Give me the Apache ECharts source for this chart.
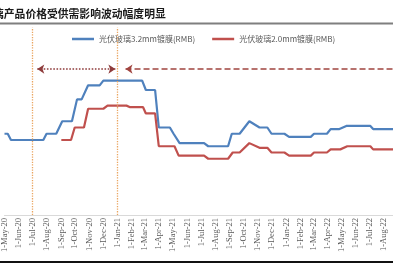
<!DOCTYPE html>
<html><head><meta charset="utf-8">
<script src="https://cdn.jsdelivr.net/npm/echarts@6/dist/echarts.min.js"></script>
<style>html,body{margin:0;padding:0;background:#fff}#c{width:393px;height:267px}</style>
</head><body><div id="c"></div>
<script>
var titleText = '璃产品价格受供需影响波动幅度明显';
var seriesNames = ['光伏玻璃3.2mm镀膜(RMB)', '光伏玻璃2.0mm镀膜(RMB)'];
var monthNames = ['Jan','Feb','Mar','Apr','May','Jun','Jul','Aug','Sep','Oct','Nov','Dec'];
var axisMin = '2020-05-01', axisMax = '2022-08-20';

var blueDates = ['2020-05-01','2020-05-08','2020-05-15','2020-07-24','2020-07-31','2020-08-21','2020-09-03','2020-09-24','2020-10-05','2020-10-15','2020-10-29','2020-11-23','2020-12-01','2021-02-23','2021-03-03','2021-03-23','2021-03-31','2021-04-24','2021-05-02','2021-05-06','2021-05-15','2021-07-07','2021-07-16','2021-08-28','2021-09-05','2021-09-22','2021-10-13','2021-11-04','2021-11-21','2021-11-30','2021-12-28','2022-01-07','2022-02-23','2022-03-02','2022-03-30','2022-04-07','2022-04-26','2022-05-11','2022-07-02','2022-07-08','2022-08-20'];
var blueValues = [26,26,24,24,26,26,30,30,37,37,41.5,41.5,43,43,40,40,28,28,26,26,23,23,22,22,26,26,30,28,28,26,26,25,25,26,26,27.5,27.5,28.5,28.5,27.5,27.5];

var redDates = ['2020-09-01','2020-09-22','2020-09-30','2020-10-20','2020-10-29','2020-12-01','2020-12-10','2021-01-20','2021-01-28','2021-02-25','2021-03-03','2021-03-23','2021-03-31','2021-05-04','2021-05-13','2021-07-07','2021-07-16','2021-08-28','2021-09-07','2021-09-22','2021-10-13','2021-11-04','2021-11-21','2021-11-30','2021-12-28','2022-01-07','2022-02-23','2022-03-02','2022-03-30','2022-04-07','2022-04-28','2022-05-13','2022-07-02','2022-07-08','2022-08-20'];
var redValues = [24,24,28,28,34,34,35,35,34.5,34.5,32.5,32.5,22,22,19,19,18,18,20,20,23,21.5,21.5,20,20,19,19,20,20,21,21,22,22,21,21];

var markerDates = ['2020-07-01','2021-01-01'];
var arrow1 = ['2020-07-11','2020-12-27'];
var arrow2 = ['2021-01-18','2022-08-20'];
var arrowLevel = 46.7;

function zip(d, v){ return d.map(function(x,i){ return [x, v[i]]; }); }

var chart = echarts.init(document.getElementById('c'), null, {renderer:'canvas'});
chart.setOption({
  animation: false,
  backgroundColor: '#fff',
  grid: {left: 0, right: 0, top: 27.5, bottom: 52, containLabel: false},
  legend: {
    left: 67, top: 30, itemWidth: 22, itemHeight: 2.5, itemGap: 17, icon: 'rect',
    textStyle: {fontSize: 8, color: '#595959', fontFamily: '"Noto Sans CJK SC"'},
    data: seriesNames
  },
  xAxis: {
    type: 'time', min: axisMin, max: axisMax,
    minInterval: 30*86400000, maxInterval: 30*86400000, splitNumber: 30,
    axisLine: {show: true, lineStyle: {color: '#d9d9d9', width: 1}},
    axisTick: {show: false},
    splitLine: {show: false},
    axisLabel: {
      rotate: 90, margin: 3, fontSize: 8.5, color: '#595959', fontFamily: '"Liberation Serif"',
      hideOverlap: false, showMinLabel: true, showMaxLabel: false,
      formatter: function(val){ var d = new Date(val); return d.getDate() + '-' + monthNames[d.getMonth()] + '-' + String(d.getFullYear()).slice(2); }
    }
  },
  yAxis: {type: 'value', min: 0, max: 60, show: false, splitLine: {show: false}},
  series: [
    {
      name: seriesNames[0], type: 'line', showSymbol: false, symbol: 'none',
      lineStyle: {color: '#4F81BD', width: 2.2}, itemStyle: {color: '#4F81BD'},
      data: zip(blueDates, blueValues),
      markLine: {
        silent: true, symbol: 'none', label: {show: false},
        lineStyle: {color: '#eaa560', type: 'dotted', width: 1.3},
        data: markerDates.map(function(d){ return {xAxis: d}; })
      }
    },
    {
      name: seriesNames[1], type: 'line', showSymbol: false, symbol: 'none',
      lineStyle: {color: '#C0504D', width: 2.2}, itemStyle: {color: '#C0504D'},
      data: zip(redDates, redValues),
      markLine: {
        silent: true, label: {show: false}, symbolSize: 7,
        data: [
          [{coord: [arrow1[0], arrowLevel], symbol: 'arrow', lineStyle: {color: '#8e3b3b', type: 'dotted', width: 1.6}},
           {coord: [arrow1[1], arrowLevel], symbol: 'arrow'}],
          [{coord: [arrow2[0], arrowLevel], symbol: 'arrow', lineStyle: {color: '#a0443f', type: 'dashed', width: 1.5}},
           {coord: [arrow2[1], arrowLevel], symbol: 'none'}]
        ]
      }
    }
  ],
  graphic: [
    {type: 'text', x: -7, y: 14, style: {text: titleText, fontSize: 10.8, fontWeight: 'bold', fontFamily: '"Noto Sans CJK SC"', fill: '#1a1a1a', verticalAlign: 'middle'}},
    {type: 'line', shape: {x1: 0, y1: 23.5, x2: 393, y2: 23.5}, style: {stroke: '#7f7f7f', lineWidth: 2}},
    {type: 'line', shape: {x1: 0, y1: 262, x2: 393, y2: 262}, style: {stroke: '#111', lineWidth: 2}}
  ]
});
</script></body></html>
